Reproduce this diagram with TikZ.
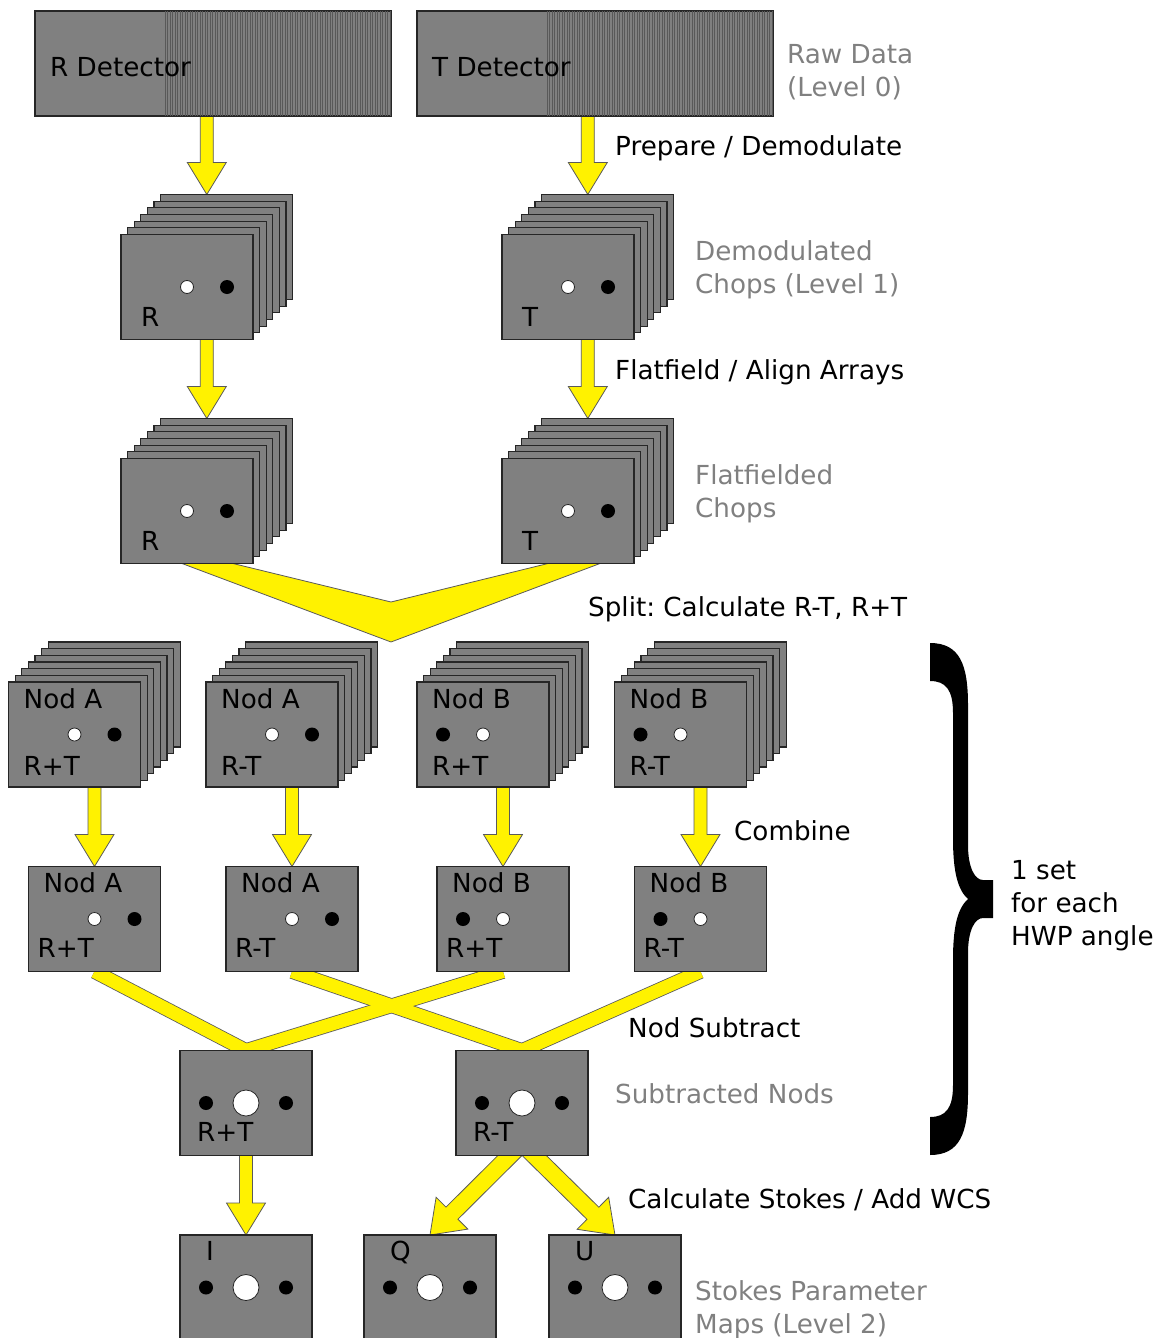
\documentclass[tikz,border=0pt]{standalone}
\usepackage{fontspec}
\setmainfont{DejaVu Sans}
\frenchspacing
\usetikzlibrary{calc,positioning,backgrounds}
\definecolor{cardgray}{RGB}{128,128,128}
\definecolor{notegray}{RGB}{128,128,128}
\definecolor{edgegray}{RGB}{90,90,90}
\tikzset{
  every node/.style={font=\fontsize{26.2}{33}\selectfont},
  card/.style={draw=black!85, fill=cardgray, line width=1.2pt, minimum width=132pt, minimum height=105pt, inner sep=0pt, outer sep=0pt},
  detector/.style={card, minimum width=356pt},
  txt/.style={anchor=base west, inner sep=0pt},
  note/.style={txt, text=notegray, align=left},
  fat/.style={draw=edgegray, fill=yellow, line width=0.8pt},
  bandedge/.style={draw=edgegray, line width=14.6pt},
  bandfill/.style={draw=yellow, line width=13pt},
  stripe/.style={draw=black!65, line width=0.9pt},
  dotsA/.style={path picture={
    \draw[fill=white, draw=black!85, line width=0.8pt] (path picture bounding box.center) circle (6.5pt);
    \fill[black] ($(path picture bounding box.center)+(40pt,0pt)$) circle (7pt);}},
  dotsB/.style={path picture={
    \fill[black] ($(path picture bounding box.center)+(-40pt,0pt)$) circle (7pt);
    \draw[fill=white, draw=black!85, line width=0.8pt] (path picture bounding box.center) circle (6.5pt);}},
  dotsC/.style={path picture={
    \fill[black] ($(path picture bounding box.center)+(-40pt,0pt)$) circle (7pt) ($(path picture bounding box.center)+(40pt,0pt)$) circle (7pt);
    \draw[fill=white, draw=black!85, line width=0.8pt] (path picture bounding box.center) circle (13pt);}},
}
\newcommand{\chopstack}[4]{%
  \foreach \k in {6,5,...,1}
    \node[card] (#1-\k) at (#2+6.6*\k, #3-6.67*\k) {};
  \node[card, #4] (#1) at (#2,#3) {};
}
\newcommand{\fatarrow}[5]{%
  \coordinate (fa-a) at (#1);
  \coordinate (fa-b) at (#2);
  \coordinate (fa-c) at ($(fa-b)!#5!(fa-a)$);
  \draw[fat] ($(fa-a)!#3!90:(fa-b)$) -- ($(fa-c)!#3!90:(fa-b)$) -- ($(fa-c)!#4!90:(fa-b)$) -- (fa-b)
    -- ($(fa-c)!#4!-90:(fa-b)$) -- ($(fa-c)!#3!-90:(fa-b)$) -- ($(fa-a)!#3!-90:(fa-b)$) -- cycle;
}

\begin{document}
\begin{tikzpicture}[x=1pt, y=-1pt]
\useasboundingbox (0,0) rectangle (1157,1338);
\node[detector] (rdet) at (213,63.5) {};
\node[detector] (tdet) at (595,63.5) {};
\foreach \d in {rdet,tdet}
  \foreach \i in {0,...,90}
    \draw[stripe] ($(\d.north west)+(130+2.5*\i,0)$) -- ($(\d.south west)+(130+2.5*\i,0)$);
\node[txt] (rdet-lbl) at ($(rdet.west)+(15,12.5)$) {R Detector};
\node[txt] (tdet-lbl) at ($(tdet.west)+(15,12.5)$) {T Detector};

\chopstack{r1}{187}{287}{dotsA}
\chopstack{t1}{568}{287}{dotsA}
\chopstack{r2}{187}{511}{dotsA}
\chopstack{t2}{568}{511}{dotsA}
\foreach \n/\t in {r1/R, t1/T, r2/R, t2/T}
  \node[txt] (\n-lbl) at ($(\n.south west)+(20,-13)$) {\t};

\chopstack{a3p}{74.5}{734.5}{dotsA}
\chopstack{a3m}{272}{734.5}{dotsA}
\chopstack{b3p}{483}{734.5}{dotsB}
\chopstack{b3m}{680.5}{734.5}{dotsB}
\foreach \n/\x/\d in {a4p/94.5/dotsA, a4m/292/dotsA, b4p/503/dotsB, b4m/700.5/dotsB}
  \node[card, \d] (\n) at (\x,919) {};
\foreach \n/\t/\s in {a3p/Nod A/R+T, a3m/Nod A/R-T, b3p/Nod B/R+T, b3m/Nod B/R-T}{
  \node[txt] (\n-nod) at ($(\n.north west)+(15,26)$) {\t};
  \node[txt] (\n-sum) at ($(\n.south west)+(15,-12)$) {\s};}
\foreach \n/\t/\s in {a4p/Nod A/R+T, a4m/Nod A/R-T, b4p/Nod B/R+T, b4m/Nod B/R-T}{
  \node[txt] (\n-nod) at ($(\n.north west)+(15,26)$) {\t};
  \node[txt] (\n-sum) at ($(\n.south west)+(9,-14)$) {\s};}

\node[card, dotsC] (subP) at (246,1103) {};
\node[card, dotsC] (subM) at (522,1103) {};
\foreach \n/\s in {subP/R+T, subM/R-T}
  \node[txt] (\n-lbl) at ($(\n.south west)+(17,-14)$) {\s};
\foreach \n/\x/\s in {stoI/246/I, stoQ/430/Q, stoU/615/U}{
  \node[card, dotsC] (\n) at (\x,1287.5) {};
  \node[txt] (\n-lbl) at ($(\n.north west)+(26,25)$) {\s};}

\begin{scope}[on background layer]
\foreach \a/\b in {rdet/r1, tdet/t1, r1/r2, t1/t2}{
  \fatarrow{\a.south -| \b-3}{\b-6.north -| \b-3}{6.5pt}{19.5pt}{32pt}}
\coordinate (splitin) at (391,602);
\coordinate (splittip) at (391,642);
\draw[fat] ($(r2.south)+(-5,0)$) -- ($(r2.south)+(46,0)$) -- (splitin) -- ($(t2.south)+(-20,0)$)
  -- ($(t2.south)+(32,0)$) -- (splittip) -- cycle;
\foreach \a/\b in {a3p/a4p, a3m/a4m, b3p/b4p, b3m/b4m}{
  \fatarrow{\a.south -| \b}{\b.north}{6.5pt}{19.5pt}{32pt}}
\foreach \a/\b in {a4p/subP, a4m/subM, b4p/subP, b4m/subM}
  \draw[bandedge] (\a.south) -- (\b.north);
\foreach \a/\b in {a4p/subP, a4m/subM, b4p/subP, b4m/subM}
  \draw[bandfill] (\a.south) -- (\b.north);
\fatarrow{subP.south}{stoI.north}{6.5pt}{19.5pt}{32pt}
\foreach \b in {stoQ,stoU}{
  \fatarrow{$(subM.south)+(0,-12)$}{\b.north}{8.5pt}{22.5pt}{31pt}}
\end{scope}

\fill (930,643) .. controls (960,643) and (968,665) .. (968,705) -- (968,845)
  .. controls (968,868) and (975,880) .. (983,880) -- (993,880) -- (993,918) -- (983,918)
  .. controls (975,918) and (968,930) .. (968,953) -- (968,1093)
  .. controls (968,1133) and (960,1155) .. (930,1155) -- (930,1117)
  .. controls (946,1117) and (953,1108) .. (953,1085) -- (953,960)
  .. controls (953,925) and (958,908) .. (968,899)
  .. controls (958,890) and (953,873) .. (953,838) -- (953,713)
  .. controls (953,690) and (946,681) .. (930,681) -- cycle;

\node[note] (lvl0) at (787,96) {Raw Data\\(Level 0)};
\node[txt] (prep) at (615,155) {Prepare / Demodulate};
\node[note] (lvl1) at (695,293) {Demodulated\\Chops (Level 1)};
\node[txt] (flat) at (615,379) {Flatfield / Align Arrays};
\node[note] (lvl1b) at (695,517) {Flatfielded\\Chops};
\node[txt] (split) at (588,616) {Split: Calculate R-T, R+T};
\node[txt] (comb) at (734,840) {Combine};
\node[txt] (nodsub) at (628,1037) {Nod Subtract};
\node[note] (subnote) at (615,1103) {Subtracted Nods};
\node[txt] (stokes) at (628,1208) {Calculate Stokes / Add WCS};
\node[note] (lvl2) at (695,1333) {Stokes Parameter\\Maps (Level 2)};
\node[txt, align=left] (hwp) at (1011,945) {1 set\\for each\\HWP angle};
\end{tikzpicture}
\end{document}
